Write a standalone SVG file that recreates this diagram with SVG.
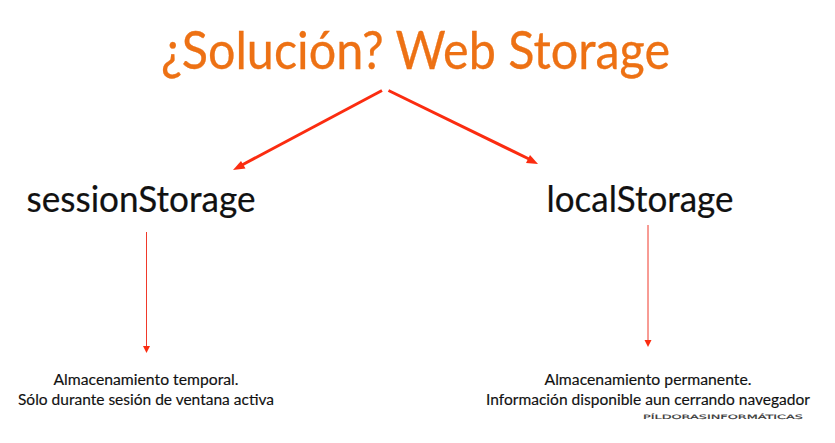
<svg xmlns="http://www.w3.org/2000/svg" width="835" height="443" viewBox="0 0 835 443">
<style>
text{font-family:"Lato","Liberation Sans",sans-serif;fill:#111;text-anchor:middle}
.title{font-size:53px;fill:#ed7114;stroke:#ed7114;stroke-width:.3px}
.head{font-size:36px;stroke:#111;stroke-width:.2px}
.note{font-size:15.500px;stroke:#111;stroke-width:.15px}
.logo{font-family:"DejaVu Sans",sans-serif;font-size:6px;fill:#333;text-anchor:start;stroke:#333;stroke-width:.15px}
.thick{stroke:#fb2c10;stroke-width:3;fill:none}
.thin{stroke:#f0392a;stroke-width:1;fill:none}
.tip{fill:#fb2c10}
</style>
<rect width="835" height="443" fill="#fff"/>
<g id="title"><text class="title" x="415.500" y="69" textLength="509" lengthAdjust="spacingAndGlyphs">¿Solución? Web Storage</text></g>
<g id="connectors">
<line class="thick" x1="382" y1="90.500" x2="242" y2="165"/><polygon class="tip" points="233,170 241,161 245.500,168.500"/>
<line class="thick" x1="388.500" y1="90.500" x2="529" y2="159"/><polygon class="tip" points="538,164 526,163 530,155"/>
<line class="thin" x1="146.500" y1="232" x2="146.500" y2="346"/><polygon class="tip" points="146.500,353 143,346 150,346"/>
<line class="thin" x1="648" y1="225" x2="648" y2="340"/><polygon class="tip" points="648,347 644.500,340 651.500,340"/>
</g>
<g id="sessionStorage"><text class="head" x="141" y="212" textLength="229" lengthAdjust="spacingAndGlyphs">sessionStorage</text>
<text class="note" x="146" y="385" textLength="185" lengthAdjust="spacingAndGlyphs">Almacenamiento temporal.</text>
<text class="note" x="146" y="405" textLength="256" lengthAdjust="spacingAndGlyphs">Sólo durante sesión de ventana activa</text></g>
<g id="localStorage"><text class="head" x="640" y="212" textLength="187" lengthAdjust="spacingAndGlyphs">localStorage</text>
<text class="note" x="648" y="385" textLength="207" lengthAdjust="spacingAndGlyphs">Almacenamiento permanente.</text>
<text class="note" x="648" y="405" textLength="324" lengthAdjust="spacingAndGlyphs">Información disponible aun cerrando navegador</text></g>
<g id="logo"><text class="logo" x="643" y="419" textLength="160" lengthAdjust="spacingAndGlyphs">PÍLDORASINFORMÁTICAS</text></g>
</svg>
